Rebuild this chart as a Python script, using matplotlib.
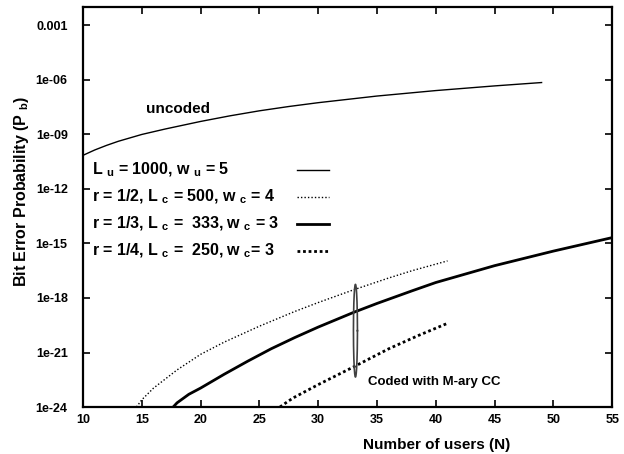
import numpy as np
import matplotlib
matplotlib.use("Agg")
import matplotlib.pyplot as plt

plt.rcParams['font.family'] = ['Liberation Sans', 'DejaVu Sans']
plt.rcParams['font.weight'] = 'bold'
plt.rcParams['mathtext.fontset'] = 'custom'
plt.rcParams['mathtext.rm'] = 'Liberation Sans:bold'
plt.rcParams['mathtext.bf'] = 'Liberation Sans:bold'
plt.rcParams['mathtext.default'] = 'bf'

#uncoded, L_u=1000, w_u=5
N_unc = [10, 11, 12, 13, 15, 17, 20, 22.5, 25, 27.5, 30, 35, 40, 45, 49]
Pb_unc = [7.1e-11, 1.4e-10, 2.5e-10, 4.2e-10, 1.0e-9, 2.0e-9, 5.2e-9,
          1.06e-8, 2.0e-8, 3.45e-8, 5.6e-8, 1.3e-7, 2.6e-7, 4.7e-7, 7.2e-7]

#r=1/2, L_c=500, w_c=4
N_r2 = [14.55, 15, 16, 18, 20, 22, 25, 28, 30, 33, 36, 38, 41]
Pb_r2 = [1e-24, 2.5e-24, 1.1e-23, 1.1e-22, 7.9e-22, 3.7e-21, 2.8e-20,
         1.8e-19, 5.6e-19, 2.8e-18, 1.26e-17, 3.2e-17, 1.1e-16]

#r=1/3, L_c=333, w_c=3
N_r3 = [17.67, 18, 19, 20, 22, 24, 26, 28, 30, 33, 35, 38, 40, 45, 50, 55]
Pb_r3 = [1e-24, 1.7e-24, 5e-24, 1.1e-23, 6.3e-23, 3.3e-22, 1.6e-21, 6.6e-21,
         2.5e-20, 1.6e-19, 5e-19, 2.5e-18, 7.1e-18, 6.0e-17, 3.8e-16, 2.1e-15]

#r=1/4, L_c=250, w_c=3
N_r4 = [26.75, 27.5, 28, 30, 33, 36, 38.5, 41.1]
Pb_r4 = [1e-24, 2.2e-24, 3.5e-24, 1.7e-23, 1.6e-22, 1.6e-21, 8.5e-21, 4.3e-20]

labels = [r"L $_u$ = 1000, w $_u$ = 5",
          r"r = 1/2, L $_c$ = 500, w $_c$ = 4",
          r"r = 1/3, L $_c$ =  333, w $_c$ = 3",
          r"r = 1/4, L $_c$ =  250, w $_c$= 3"]
styles = [dict(color='black', lw=1.0, ls='-'),
          dict(color='black', lw=1.0, ls=(0, (1, 1.5))),
          dict(color='black', lw=2.0, ls='-'),
          dict(color='black', lw=2.0, ls=(0, (1, 1)))]

fig = plt.figure(figsize=(6.24, 4.54), dpi=100)
ax = fig.add_axes([0.133, 0.1035, 0.848, 0.8805])

ax.plot(N_unc, Pb_unc, **styles[0])
ax.plot(N_r2, Pb_r2, **styles[1])
ax.plot(N_r3, Pb_r3, **styles[2])
ax.plot(N_r4, Pb_r4, **styles[3])

ax.set_yscale('log')
ax.set_xlim(10, 55)
ax.set_ylim(1e-24, 1e-2)
ax.set_xticks(np.arange(10, 56, 5))
yt = [1e-24, 1e-21, 1e-18, 1e-15, 1e-12, 1e-9, 1e-6, 1e-3]
ax.set_yticks(yt)
ax.set_yticklabels(['1e-24', '1e-21', '1e-18', '1e-15', '1e-12', '1e-09', '1e-06', '0.001'])
ax.minorticks_off()
ax.tick_params(axis='both', direction='in', length=5, width=1.2, labelsize=9,
               top=True, right=True)
ax.tick_params(axis='y', pad=11)
ax.tick_params(axis='x', pad=5)
for sp in ax.spines.values():
    sp.set_linewidth(1.6)

ax.set_xlabel("Number of users (N)", fontsize=11, fontweight='bold')
ax.set_ylabel(r"Bit Error Probability (P $_b$)", fontsize=11.5, fontweight='bold')
ax.xaxis.set_label_coords(0.669, -0.077)
ax.yaxis.set_label_coords(-0.098, 0.54)

#legend drawn gnuplot-like: text on left, sample line on right
ypos = [0.593, 0.525, 0.458, 0.39]
for lab, st, yy in zip(labels, styles, ypos):
    ax.text(0.017, yy, lab, transform=ax.transAxes, fontsize=11.5,
            ha='left', va='center')
    ax.plot([0.404, 0.465], [yy, yy], transform=ax.transAxes, **st)

ax.text(15.4, 10**-7.6, "uncoded", fontsize=11, ha='left', va='center')
ax.text(34.2, 10**-22.6, "Coded with M-ary CC", fontsize=9.5, ha='left', va='center')

#ellipse round the coded curves
t = np.linspace(0, 2*np.pi, 200)
ax.plot(33.17 + 0.17*np.cos(t), 10**(-19.8 + 2.55*np.sin(t)), color='0.25', lw=1.2)

fig.savefig("out.png", dpi=100)
